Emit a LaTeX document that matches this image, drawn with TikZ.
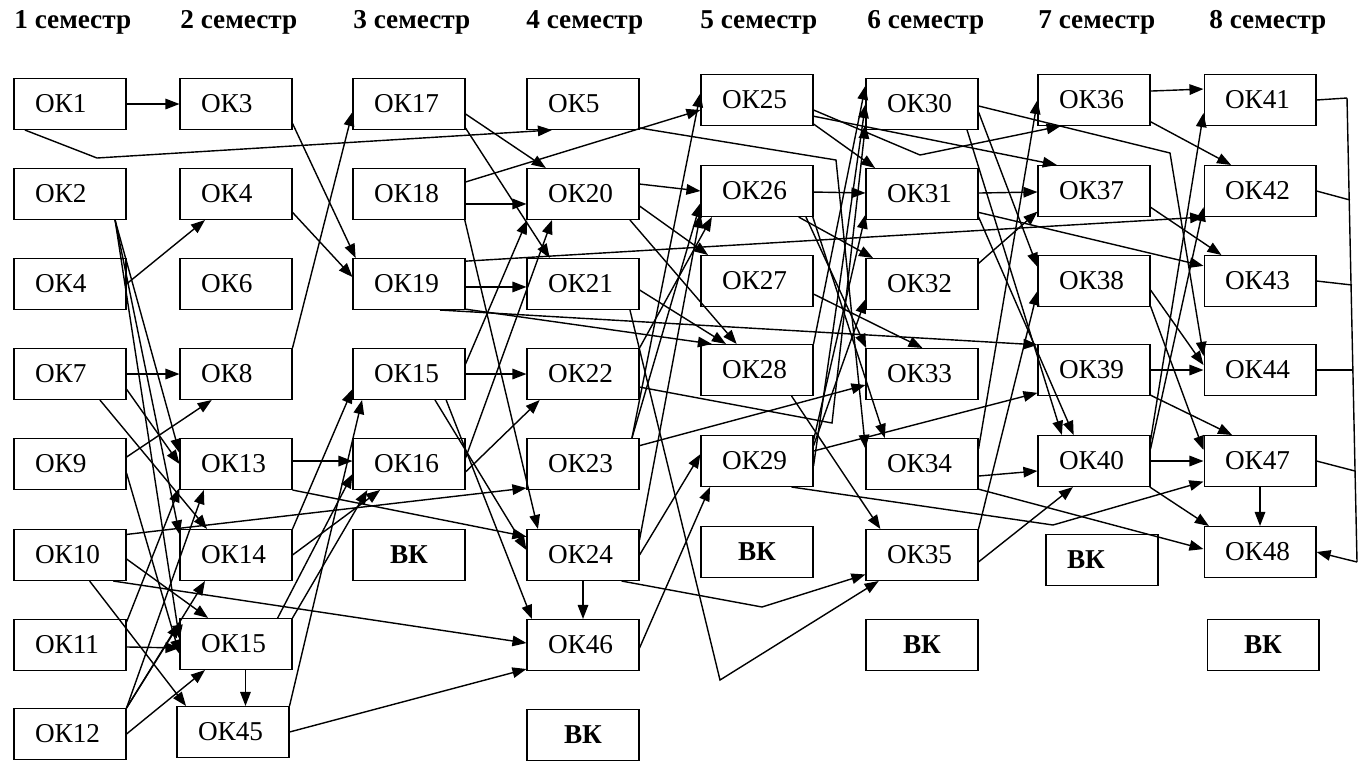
\documentclass[tikz,border=0pt]{standalone}
\usepackage{fontspec}
\setmainfont{Liberation Serif}
\usetikzlibrary{arrows.meta}

\begin{document}
\begin{tikzpicture}[x=0.02cm, y=-0.02cm,
    box/.style={draw, semithick, minimum height=1.02cm, text width=1.40cm, inner xsep=0.42cm, inner ysep=0pt, align=left, font=\rmfamily\fontsize{15.5}{18}\selectfont},
    vk/.style={draw, semithick, minimum width=2.24cm, minimum height=1.02cm, inner sep=0pt, font=\rmfamily\fontsize{15.5}{18}\selectfont\bfseries},
    head/.style={anchor=west, inner sep=0pt, font=\rmfamily\fontsize{15.5}{18}\selectfont\bfseries},
    arr/.style={-{Triangle[length=8pt, width=6pt]}, thick}]
    \useasboundingbox (0,0) rectangle (1362,762);

    %Headers
    \node[head] at (14,22) (s1) {1 семестр};
    \node[head] at (180,22) (s2) {2 семестр};
    \node[head] at (353,22) (s3) {3 семестр};
    \node[head] at (526,22) (s4) {4 семестр};
    \node[head] at (700,22) (s5) {5 семестр};
    \node[head] at (867,22) (s6) {6 семестр};
    \node[head] at (1038,22) (s7) {7 семестр};
    \node[head] at (1209,22) (s8) {8 семестр};

    %Nodes
    \node[box] at (70,104) (ok1) {ОК1};
    \node[box] at (70,194) (ok2) {ОК2};
    \node[box] at (70,284) (ok4a) {ОК4};
    \node[box] at (70,374) (ok7) {ОК7};
    \node[box] at (70,464) (ok9) {ОК9};
    \node[box] at (70,555) (ok10) {ОК10};
    \node[box] at (70,645) (ok11) {ОК11};
    \node[box] at (70,734) (ok12) {ОК12};

    \node[box] at (236,104) (ok3) {ОК3};
    \node[box] at (236,194) (ok4b) {ОК4};
    \node[box] at (236,284) (ok6) {ОК6};
    \node[box] at (236,374) (ok8) {ОК8};
    \node[box] at (236,464) (ok13) {ОК13};
    \node[box] at (236,555) (ok14) {ОК14};
    \node[box] at (236,644) (ok15a) {ОК15};
    \node[box] at (233,732) (ok45) {ОК45};

    \node[box] at (409,104) (ok17) {ОК17};
    \node[box] at (409,194) (ok18) {ОК18};
    \node[box] at (409,284) (ok19) {ОК19};
    \node[box] at (409,374) (ok15b) {ОК15};
    \node[box] at (409,464) (ok16) {ОК16};
    \node[vk] at (409,555) (vk3) {ВК};

    \node[box] at (583,104) (ok5) {ОК5};
    \node[box] at (583,194) (ok20) {ОК20};
    \node[box] at (583,284) (ok21) {ОК21};
    \node[box] at (583,374) (ok22) {ОК22};
    \node[box] at (583,464) (ok23) {ОК23};
    \node[box] at (583,555) (ok24) {ОК24};
    \node[box] at (583,645) (ok46) {ОК46};
    \node[vk] at (583,735) (vk4) {ВК};

    \node[box] at (757,100) (ok25) {ОК25};
    \node[box] at (757,191) (ok26) {ОК26};
    \node[box] at (757,281) (ok27) {ОК27};
    \node[box] at (757,370) (ok28) {ОК28};
    \node[box] at (757,461) (ok29) {ОК29};
    \node[vk] at (757,552) (vk5) {ВК};

    \node[box] at (922,104) (ok30) {ОК30};
    \node[box] at (922,194) (ok31) {ОК31};
    \node[box] at (922,284) (ok32) {ОК32};
    \node[box] at (922,374) (ok33) {ОК33};
    \node[box] at (922,464) (ok34) {ОК34};
    \node[box] at (922,555) (ok35) {ОК35};
    \node[vk] at (922,645) (vk6) {ВК};

    \node[box] at (1094,100) (ok36) {ОК36};
    \node[box] at (1094,191) (ok37) {ОК37};
    \node[box] at (1094,281) (ok38) {ОК38};
    \node[box] at (1094,370) (ok39) {ОК39};
    \node[box] at (1094,461) (ok40) {ОК40};
    \node[box] at (1102,560) (vk7) {\textbf{ВК}};

    \node[box] at (1260,100) (ok41) {ОК41};
    \node[box] at (1260,191) (ok42) {ОК42};
    \node[box] at (1260,281) (ok43) {ОК43};
    \node[box] at (1260,370) (ok44) {ОК44};
    \node[box] at (1260,461) (ok47) {ОК47};
    \node[box] at (1260,552) (ok48) {ОК48};
    \node[vk] at (1263,645) (vk8) {ВК};

    %Bends
    \coordinate (b1) at (97,158);
    \coordinate (b5) at (836,160);
    \coordinate (b21) at (720,680);
    \coordinate (b22) at (832,423);
    \coordinate (b24) at (762,607);
    \coordinate (b25) at (920,155);
    \coordinate (b29) at (1053,525);
    \coordinate (b30) at (1170,153);
    \coordinate (r41) at (1347,98);
    \coordinate (r42) at (1350,200);
    \coordinate (r43) at (1352,285);
    \coordinate (r44) at (1353,370);
    \coordinate (r47) at (1355,471);
    \coordinate (r48) at (1357,562);

    %Lines
    \draw[arr] (ok1) -- (ok3);
    \draw[arr] (ok1.-150) -- (b1) -- (ok5.-140);
    \draw[arr] (ok4a.east) -- (ok4b.-140);
    \draw[arr] (ok7) -- (ok8);
    \draw[arr] (ok2.-30) -- (ok13.169);
    \draw[arr] (ok2.-30) -- (ok14.160);
    \draw[arr] (ok2.-30) -- (ok15a.175);
    \draw[arr] (ok7.-15) -- (ok13.180);
    \draw[arr] (ok7.-41) -- (ok14.138);
    \draw[arr] (ok9.7) -- (ok8.-133);
    \draw[arr] (ok9.-9) -- (ok15a.-170);
    \draw[arr] (ok10.20) -- (ok23.-157);
    \draw[arr] (ok10.-4) -- (ok15a.137);
    \draw[arr] (ok10.-31) -- (ok46.178);
    \draw[arr] (ok10.-53) -- (ok45.151);
    \draw[arr] (ok11.-2) -- (ok15a.-176);
    \draw[arr] (ok11.22) -- (ok13.-157);
    \draw[arr] (ok12.north east) -- (ok13.-141);
    \draw[arr] (ok12.north east) -- (ok14.-140);
    \draw[arr] (ok12.north east) -- (ok15a.160);
    \draw[arr] (ok12.east) -- (ok15a.-140);

    \draw[arr] (ok3.-19) -- (ok19.154);
    \draw[arr] (ok4b.-18) -- (ok19.173);
    \draw[arr] (ok8.north east) -- (ok17.-172);
    \draw[arr] (ok13.3) -- (ok16.177);
    \draw[arr] (ok13.south east) -- (ok24.162);
    \draw[arr] (ok14.north east) -- (ok15b.-165);
    \draw[arr] (ok14.east) -- (ok16.-138);
    \draw[arr] (ok15a.32) -- (ok16.-170);
    \draw[arr] (ok15a.north east) -- (ok16.-148);
    \draw[arr] (ok15a.-70) -- (ok15a.-70 |- ok45.north);
    \draw[arr] (ok45.north east) -- (ok15b.-151);
    \draw[arr] (ok45.east) -- (ok46.-157);

    \draw[arr] (ok17.-10) -- (ok20.145);
    \draw[arr] (ok17.-23) -- (ok21.142);
    \draw[arr] (ok18.12) -- (ok25.-170);
    \draw[arr] (ok18.-10) -- (ok20.-170);
    \draw[arr] (ok18.-25) -- (ok24.150);
    \draw[arr] (ok19.-3) -- (ok21.-177);
    \draw[arr] (ok19.22) -- (ok42.-155);
    \draw[arr] (ok19.-24) -- (ok28.150);
    \draw[arr] (ok19.-40) -- (ok39.156);
    \draw[arr] (ok15b) -- (ok22);
    \draw[arr] (ok15b.10) -- (ok20.-155);
    \draw[arr] (ok15b.-35) -- (ok46.153);
    \draw[arr] (ok15b.-45) -- (ok24.175);
    \draw[arr] (ok16.6) -- (ok20.-140);
    \draw[arr] (ok16.-8) -- (ok22.-149);

    \draw[arr] (ok20.10) -- (ok26.180);
    \draw[arr] (ok20.-12) -- (ok27.152);
    \draw[arr] (ok20.-29) -- (ok28.128);
    \draw[arr] (ok21.-6) -- (ok28.140);
    \draw[arr] (ok21.-29) -- (b21) -- (ok35.-149);
    \draw[arr] (ok5.-23) -- (b5) -- (ok34.165);
    \draw[arr] (ok22.-13) -- (b22) -- (ok30.-160);
    \draw[arr] (ok23.28) -- (ok25.173);
    \draw[arr] (ok23.28) -- (ok26.-168);
    \draw[arr] (ok22.north east) -- (ok26.-150);
    \draw[arr] (ok24.15) -- (ok26.-158);
    \draw[arr] (ok24.east) -- (ok29.173);
    \draw[arr] (ok24.-34) -- (b24) -- (ok35.-161);
    \draw[arr] (ok46.-3) -- (ok29.-151);
    \draw[arr] (ok23.18) -- (ok33.-169);
    \draw[arr] (ok24.south) -- (ok46.north);

    \draw[arr] (ok25.-23) -- (ok31.151);
    \draw[arr] (ok25.-16) -- (ok37.145);
    \draw[arr] (ok25.-10) -- (b25) -- (ok36.-142);
    \draw[arr] (ok26) -- (ok31);
    \draw[arr] (ok26.-32) -- (ok32.152);
    \draw[arr] (ok26.-28) -- (ok33.155);
    \draw[arr] (ok26.-25) -- (ok34.145);
    \draw[arr] (ok27.-13) -- (ok33.89);
    \draw[arr] (ok28.north east) -- (ok30.162);
    \draw[arr] (ok28.-37) -- (ok35.148);
    \draw[arr] (ok29.-5) -- (ok30.180);
    \draw[arr] (ok29.20) -- (ok31.-160);
    \draw[arr] (ok29.15) -- (ok32.-165);
    \draw[arr] (ok29.10) -- (ok39.-158);
    \draw[arr] (ok29.-37) -- (b29) -- (ok47.-160);

    \draw[arr] (ok30.-2) -- (b30) -- (ok44.166);
    \draw[arr] (ok30.-8) -- (ok38.166);
    \draw[arr] (ok30.-30) -- (ok40.141);
    \draw[arr] (ok31) -- (ok37);
    \draw[arr] (ok31.-18) -- (ok43.165);
    \draw[arr] (ok31.-22) -- (ok40.128);
    \draw[arr] (ok32.20) -- (ok37.-160);
    \draw[arr] (ok34.15) -- (ok36.180);
    \draw[arr] (ok34.-12) -- (ok40.-170);
    \draw[arr] (ok34.-24) -- (ok48.177);
    \draw[arr] (ok35.-7) -- (ok40.-129);
    \draw[arr] (ok35.north east) -- (ok38.-170);

    \draw[arr] (ok36.9) -- (ok41.169);
    \draw[arr] (ok36.-21) -- (ok42.138);
    \draw[arr] (ok37.-16) -- (ok43.146);
    \draw[arr] (ok38.-9) -- (ok44.175);
    \draw[arr] (ok38.-24) -- (ok47.169);
    \draw[arr] (ok39) -- (ok44);
    \draw[arr] (ok39.-24) -- (ok47.137);
    \draw[arr] (ok40) -- (ok47);
    \draw[arr] (ok40.-25) -- (ok48.153);
    \draw[arr] (ok40.20) -- (ok41.-167);
    \draw[arr] (ok40.12) -- (ok42.-164);
    \draw[arr] (ok47.south) -- (ok48.north);

    \draw[thick] (ok41.east) -- (r41);
    \draw[thick] (ok42.east) -- (r42);
    \draw[thick] (ok43.east) -- (r43);
    \draw[thick] (ok44.east) -- (r44);
    \draw[thick] (ok47.east) -- (r47);
    \draw[thick] (r41) -- (r48);
    \draw[arr] (r48) -- (ok48.east);

\end{tikzpicture}
\end{document}
